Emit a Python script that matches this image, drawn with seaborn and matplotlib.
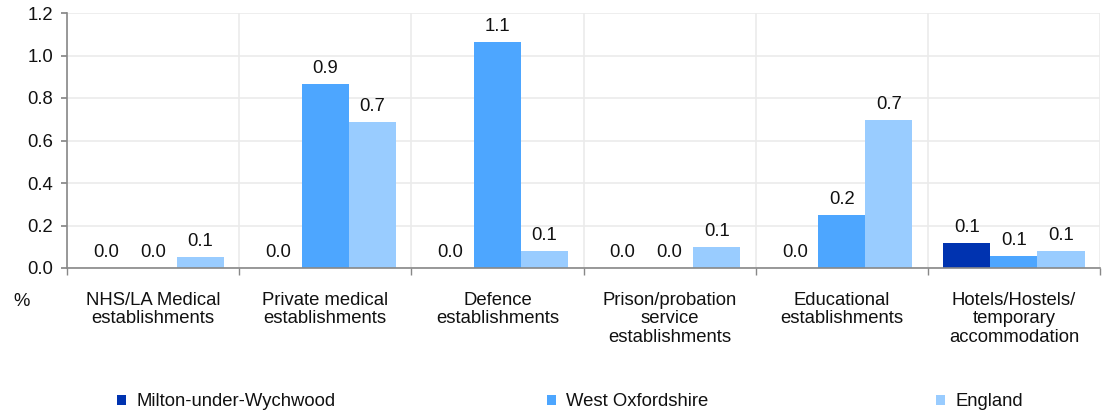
import matplotlib
matplotlib.use("Agg")
import matplotlib.pyplot as plt
import seaborn as sns
import pandas as pd
import numpy as np
from matplotlib.patches import Patch

categories = ["NHS/LA Medical\nestablishments", "Private medical\nestablishments",
              "Defence\nestablishments", "Prison/probation\nservice\nestablishments",
              "Educational\nestablishments", "Hotels/Hostels/\ntemporary\naccommodation"]
series = ["Milton-under-Wychwood", "West Oxfordshire", "England"]
milton = [0.0, 0.0, 0.0, 0.0, 0.0, 0.12]
west_ox = [0.0, 0.865, 1.065, 0.0, 0.25, 0.057]
england = [0.05, 0.685, 0.08, 0.098, 0.695, 0.08]
colors = ["#0033B0", "#4DA6FF", "#99CCFF"]
yticks = [0.0, 0.2, 0.4, 0.6, 0.8, 1.0, 1.2]

df = pd.DataFrame({
    "cat": categories * 3,
    "series": [s for s in series for _ in categories],
    "val": milton + west_ox + england,
})

sns.set_theme(style="white")
plt.rcParams["font.family"] = ["Liberation Sans", "DejaVu Sans"]
FS = 13.3

fig = plt.figure(figsize=(11.06, 4.12), dpi=100)
ax = fig.add_axes([67/1106, 1-268/412, (1100-67)/1106, (268-13)/412])

sns.barplot(data=df, x="cat", y="val", hue="series", hue_order=series,
            palette=colors, order=categories, ax=ax, width=0.82, saturation=1,
            legend=False, errorbar=None, linewidth=0)

for cont in ax.containers:
    ax.bar_label(cont, labels=[f"{v:.1f}" for v in cont.datavalues],
                 padding=5, fontsize=FS, color="#111111")

ax.set_ylim(0, 1.2)
ax.set_xlim(-0.5, len(categories) - 0.5)
ax.set_yticks(yticks)
ax.set_yticklabels([f"{t:.1f}" for t in yticks], fontsize=FS, color="#111111")
ax.set_xticks(range(len(categories)))
ax.set_xticklabels(categories, fontsize=FS, color="#111111", linespacing=1.13)
ax.set_xticks(np.arange(-0.5, len(categories), 1.0), minor=True)
ax.tick_params(axis="x", which="major", length=0, pad=17)
ax.tick_params(axis="x", which="minor", length=5, color="#888888", direction="out", bottom=True)
ax.tick_params(axis="y", which="major", length=4, color="#888888", direction="out", left=True, pad=6)
ax.set_xlabel("")
ax.set_ylabel("")

ax.grid(axis="y", color="#EBEBEB", linewidth=1.2)
ax.grid(axis="x", which="minor", color="#EBEBEB", linewidth=1.2)
ax.grid(axis="x", which="major", visible=False)
ax.set_axisbelow(True)
for s in ["top", "right"]:
    ax.spines[s].set_visible(False)
for s in ["left", "bottom"]:
    ax.spines[s].set_color("#888888")
    ax.spines[s].set_linewidth(1.2)

fig.text(13/1106, 1-301/412, "%", fontsize=FS, color="#111111", ha="left", va="center")

xs = [117, 547, 936]
for name, col, x in zip(series, colors, xs):
    leg = fig.legend(handles=[Patch(facecolor=col, edgecolor="none", label=name)],
                     loc="center left", bbox_to_anchor=(x/1106, 1-402/412),
                     frameon=False, fontsize=FS, handlelength=0.5, handleheight=0.5,
                     handletextpad=0.55, borderpad=0, borderaxespad=0)
    for t in leg.get_texts():
        t.set_color("#111111")

fig.savefig("out.png", dpi=100)
